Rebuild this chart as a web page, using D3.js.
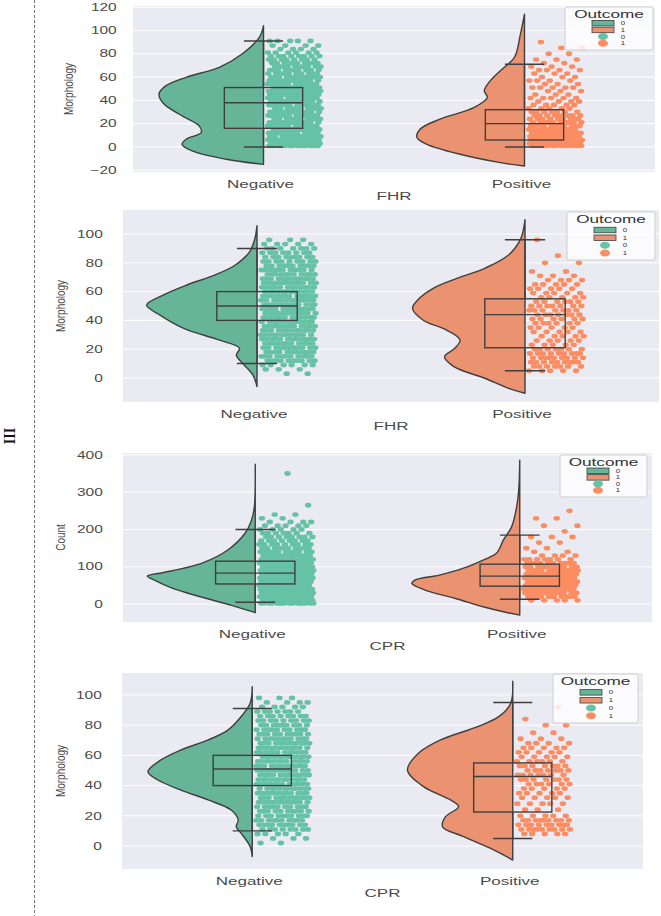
<!DOCTYPE html>
<html>
<head>
<meta charset="utf-8">
<script src="https://cdn.jsdelivr.net/npm/d3@7"></script>
<style>
  body { margin: 0; background: #fff; }
  text { font-family: "Liberation Sans", Arial, sans-serif; }
</style>
</head>
<body>
<svg id="chart" width="661" height="916"></svg>
<script>
// ---- data ----
const categories = ["Negative", "Positive"];
const outcomeLabels = ["0", "1"];
const xTitles = ["FHR", "FHR", "CPR", "CPR"];
const yTitles = ["Morphology", "Morphology", "Count", "Morphology"];

const yTicks1 = [-20, 0, 20, 40, 60, 80, 100, 120];
const yTicks2 = [0, 20, 40, 60, 80, 100];
const yTicks3 = [0, 100, 200, 300, 400];
const yTicks4 = [0, 20, 40, 60, 80, 100];

// box stats: [whisker low, q1, median, q3, whisker high]
const box1Neg = [0, 16, 38, 51, 91];
const box1Pos = [0, 6, 20, 32, 71];
const box2Neg = [10, 40, 50, 60, 90];
const box2Pos = [5, 21, 44, 55, 96];
const box3Neg = [5, 54, 83, 115, 200];
const box3Pos = [13, 48, 75, 107, 185];
const box4Neg = [10, 40, 51, 60, 91];
const box4Pos = [5, 22.5, 46, 55, 95];

// half violin outline: [value, relative density]
const violin1Neg = [[-15, 0], [-10.6, 37], [-3.4, 71], [2.3, 81], [6.6, 77], [12.4, 62], [18.1, 64], [26.7, 81], [36.8, 99], [45.4, 104], [52.6, 97], [59.8, 77], [68.4, 44], [80, 21], [94.3, 4], [104, 0]];
const violin1Pos = [[-16.4, 0], [-13.5, 24], [-6.3, 64], [2.3, 97], [8.1, 107], [15.2, 104], [23.9, 84], [33.9, 50], [42.5, 37], [48.3, 40], [56.9, 34], [65.5, 24], [77, 10], [97, 4], [114, 0]];
const violin2Neg = [[-6, 0], [2.1, 4], [10.2, 14], [15.9, 20], [20.6, 17], [26.4, 37], [34.5, 71], [43.7, 94], [50.7, 107], [57.6, 91], [64.6, 68], [71.5, 41], [78.5, 21], [87.8, 7], [97, 2], [105.8, 0]];
const violin2Pos = [[-10.6, 0], [-7.2, 16], [-0.2, 39], [7.9, 69], [14.8, 78], [20.6, 68], [26.4, 63], [33.3, 76], [40.3, 99], [48.4, 109], [54.2, 104], [62.3, 89], [69.2, 66], [76.2, 39], [85.4, 16], [97, 4], [110, 0]];
const violin3Neg = [[-23, 0], [-16, 8], [-2.7, 24], [19.6, 54], [42, 81], [64, 99], [75, 106], [84, 91], [95.6, 71], [111, 51], [145, 27], [190, 10], [222, 4], [258, 1], [375, 0]];
const violin3Pos = [[-29.5, 0], [-20.6, 16], [-7.2, 36], [15, 63], [37.5, 93], [55.3, 106], [64.3, 103], [77.7, 79], [95.6, 56], [118, 36], [136, 23], [172, 16], [207, 8], [261, 3], [306, 1], [386, 0]];
const violin4Neg = [[-7, 0], [-0.4, 2], [8.4, 11], [12.8, 16], [17.2, 14], [23.8, 21], [30.5, 44], [37, 71], [43.7, 94], [49.2, 104], [57, 91], [63.6, 71], [70.2, 44], [76.9, 24], [85.7, 11], [94.6, 2], [105.5, 0]];
const violin4Pos = [[-9.3, 0], [-2.6, 19], [6.2, 49], [12.8, 70], [19.4, 67], [26, 54], [30.5, 62], [39.3, 89], [50.3, 105], [61.4, 94], [70.2, 72], [79, 35], [85.6, 14], [94.5, 2], [109, 0]];

// strip points: [value, how many points at that value]
const strip1Neg = [[1, 16], [3, 14], [6, 14], [9, 12], [12, 12], [15, 12], [18, 12], [21, 12], [24, 10], [27, 12], [30, 12], [33, 10], [36, 12], [39, 12], [42, 12], [45, 14], [48, 14], [51, 12], [54, 12], [57, 12], [60, 12], [63, 10], [66, 10], [69, 10], [72, 10], [75, 8], [78, 8], [81, 6], [84, 4], [87, 4], [91, 5]];
const strip1Pos = [[1, 16], [3, 15], [6, 14], [9, 13], [12, 13], [15, 12], [18, 11], [21, 10], [24, 9], [27, 8], [30, 7], [33, 5], [36, 5], [39, 4], [42, 5], [45, 3], [48, 3], [51, 5], [54, 3], [57, 4], [60, 3], [63, 3], [66, 4], [69, 3], [72, 2], [75, 3], [80, 2], [85, 2], [90, 1]];
const strip2Neg = [[3, 2], [6, 3], [9, 6], [12, 10], [15, 11], [18, 11], [21, 11], [24, 11], [27, 12], [30, 12], [33, 12], [36, 12], [39, 12], [42, 12], [45, 12], [48, 12], [51, 12], [54, 12], [57, 12], [60, 12], [63, 12], [66, 12], [69, 12], [72, 11], [75, 11], [78, 10], [81, 9], [84, 9], [87, 8], [90, 7], [93, 5], [96, 3]];
const strip2Pos = [[5, 5], [8, 7], [11, 9], [14, 9], [17, 9], [20, 7], [23, 5], [26, 5], [29, 5], [32, 5], [35, 5], [38, 6], [41, 6], [44, 7], [47, 7], [50, 7], [53, 6], [56, 5], [59, 5], [62, 5], [65, 5], [68, 4], [71, 3], [74, 2], [80, 2], [85, 1], [96, 1]];
const strip3Neg = [[2, 16], [10, 16], [20, 16], [30, 16], [40, 16], [50, 16], [60, 16], [70, 16], [80, 16], [90, 16], [100, 15], [110, 14], [120, 13], [130, 12], [140, 11], [150, 10], [160, 9], [170, 8], [180, 8], [190, 7], [200, 5], [210, 5], [220, 4], [230, 2], [240, 2], [265, 1], [350, 1]];
const strip3Pos = [[10, 5], [20, 10], [30, 12], [40, 13], [50, 13], [60, 13], [70, 13], [80, 13], [90, 12], [100, 11], [110, 10], [120, 7], [130, 4], [140, 2], [150, 2], [165, 2], [180, 3], [195, 1], [210, 2], [230, 2], [250, 1]];
const strip4Neg = [[2, 2], [5, 3], [8, 5], [11, 8], [14, 10], [17, 10], [20, 10], [23, 10], [26, 10], [29, 12], [32, 12], [35, 12], [38, 12], [41, 12], [44, 12], [47, 12], [50, 12], [53, 12], [56, 12], [59, 12], [62, 12], [65, 12], [68, 12], [71, 11], [74, 10], [77, 10], [80, 9], [83, 9], [86, 8], [89, 7], [92, 5], [95, 4], [98, 3]];
const strip4Pos = [[8, 5], [11, 9], [14, 9], [17, 9], [20, 5], [24, 3], [28, 5], [32, 5], [35, 5], [38, 5], [41, 6], [44, 7], [47, 7], [50, 7], [53, 7], [56, 6], [59, 5], [62, 5], [65, 5], [68, 4], [71, 3], [75, 2], [80, 2], [84, 1], [92, 1]];

// ---- styling / layout ----
const pointColors = ["#66c2a5", "#fc8d62"];
const violinColors = ["#67b598", "#eb9270"];
const edgeColor = "#3f3f3f";
const textColor = "#4a4a4a";
const sx = 1.55; // the figure's text is stretched horizontally

const layout = [
  { x0: 133, x1: 655, y0: 6, y1: 172, dom: [-21.5, 121], ticks: yTicks1, yTitleX: 68, legend: [565, 7, 88, 43] },
  { x0: 123, x1: 659, y0: 210, y1: 402, dom: [-16.7, 116.7], ticks: yTicks2, yTitleX: 60, legend: [567, 212, 88, 48] },
  { x0: 123, x1: 652, y0: 453, y1: 622, dom: [-48, 405], ticks: yTicks3, yTitleX: 60, legend: [560, 455, 87, 42] },
  { x0: 122, x1: 643, y0: 673, y1: 869, dom: [-15.2, 114.5], ticks: yTicks4, yTitleX: 60, legend: [553, 674, 85, 49] }
];

const panels = [
  { boxes: [box1Neg, box1Pos], violins: [violin1Neg, violin1Pos], strips: [strip1Neg, strip1Pos] },
  { boxes: [box2Neg, box2Pos], violins: [violin2Neg, violin2Pos], strips: [strip2Neg, strip2Pos] },
  { boxes: [box3Neg, box3Pos], violins: [violin3Neg, violin3Pos], strips: [strip3Neg, strip3Pos] },
  { boxes: [box4Neg, box4Pos], violins: [violin4Neg, violin4Pos], strips: [strip4Neg, strip4Pos] }
];

const svg = d3.select("#chart");

// dashed divider and rotated side label
svg.append("line")
  .attr("x1", 34.5).attr("x2", 34.5).attr("y1", 0).attr("y2", 916)
  .attr("stroke", "#777").attr("stroke-width", 1).attr("stroke-dasharray", "3,2");

svg.append("text")
  .attr("transform", "translate(10,436) scale(1.15,1) rotate(90)")
  .attr("text-anchor", "middle")
  .attr("dy", "0.35em")
  .style("font-family", "'Liberation Serif', 'DejaVu Serif', serif")
  .style("font-weight", "bold")
  .style("font-size", "14px")
  .attr("fill", "#111")
  .text("III");

function stretchedText(g, x, y, str, size, anchor, rot, scaleX) {
  return g.append("text")
    .attr("transform", `translate(${x},${y}) scale(${scaleX || sx},1)` + (rot ? ` rotate(${rot})` : ""))
    .attr("text-anchor", anchor)
    .attr("dy", "0.35em")
    .attr("fill", textColor)
    .style("font-size", size + "px")
    .text(str);
}

let jitterIndex = 0;

panels.forEach((p, pi) => {
  const L = layout[pi];
  const g = svg.append("g");

  const y = d3.scaleLinear().domain(L.dom).range([L.y1, L.y0]);
  const x = d3.scaleBand().domain(categories).range([L.x0, L.x1]);
  const bw = x.bandwidth();
  const cx = (c) => x(c) + bw / 2;
  const vw = d3.scaleLinear().domain([0, 100]).range([0, bw * 0.385]);

  // background + grid
  g.append("rect")
    .attr("x", L.x0).attr("y", L.y0)
    .attr("width", L.x1 - L.x0).attr("height", L.y1 - L.y0)
    .attr("fill", "#eaeaf2");

  g.selectAll(".grid")
    .data(L.ticks)
    .join("line")
    .attr("x1", L.x0).attr("x2", L.x1)
    .attr("y1", (d) => y(d)).attr("y2", (d) => y(d))
    .attr("stroke", "#fff").attr("stroke-width", 1);

  // y axis labels
  const axis = g.append("g")
    .attr("transform", `translate(${L.x0},0)`)
    .call(d3.axisLeft(y).tickValues(L.ticks).tickSize(0).tickPadding(pi === 0 ? 10.5 : 13).tickFormat((d) => d < 0 ? "\u2212" + Math.abs(d) : d));
  axis.select(".domain").remove();
  axis.selectAll("text")
    .attr("transform", `scale(${sx},1)`)
    .attr("fill", textColor)
    .style("font-family", "'Liberation Sans', Arial, sans-serif")
    .style("font-size", "10px");

  categories.forEach((cat, ci) => {
    const c = cx(cat);

    // half violin on the left
    const area = d3.area()
      .y((d) => y(d[0]))
      .x0(c)
      .x1((d) => c - vw(d[1]))
      .curve(d3.curveCatmullRom.alpha(0.5));
    g.append("path")
      .datum(p.violins[ci])
      .attr("d", area)
      .attr("fill", violinColors[ci])
      .attr("stroke", edgeColor)
      .attr("stroke-width", 1.4)
      .attr("stroke-linejoin", "round");

    // strip points on the right
    const pts = [];
    p.strips[ci].forEach(([v, n]) => {
      for (let k = 0; k < n; k++) {
        jitterIndex++;
        pts.push({ v, j: (jitterIndex * 0.6180339887) % 1 });
      }
    });
    g.selectAll(null)
      .data(pts)
      .join("ellipse")
      .attr("cx", (d) => c + 4 + d.j * (bw * 0.22 - 4))
      .attr("cy", (d) => y(d.v))
      .attr("rx", 3.2)
      .attr("ry", 2.4)
      .attr("fill", pointColors[ci]);

    // box
    const [lo, q1, med, q3, hi] = p.boxes[ci];
    const boxW = bw * 0.3;
    const bg = g.append("g")
      .attr("fill", "none")
      .attr("stroke", edgeColor)
      .attr("stroke-width", 1.4);
    bg.append("rect")
      .attr("x", c - boxW / 2).attr("y", y(q3))
      .attr("width", boxW).attr("height", y(q1) - y(q3));
    bg.append("line").attr("x1", c - boxW / 2).attr("x2", c + boxW / 2).attr("y1", y(med)).attr("y2", y(med));
    bg.append("line").attr("x1", c).attr("x2", c).attr("y1", y(q3)).attr("y2", y(hi));
    bg.append("line").attr("x1", c).attr("x2", c).attr("y1", y(q1)).attr("y2", y(lo));
    bg.append("line").attr("x1", c - boxW / 4).attr("x2", c + boxW / 4).attr("y1", y(hi)).attr("y2", y(hi));
    bg.append("line").attr("x1", c - boxW / 4).attr("x2", c + boxW / 4).attr("y1", y(lo)).attr("y2", y(lo));

    // category label
    stretchedText(g, c - 3, L.y1 + 12, cat, 11, "middle");
  });

  // axis titles
  stretchedText(g, (L.x0 + L.x1) / 2, L.y1 + 24, xTitles[pi], 11, "middle");
  stretchedText(g, L.yTitleX, (L.y0 + L.y1) / 2, yTitles[pi], 10, "middle", -90, 1.3);

  // legend
  const [lx, ly, lw, lh] = L.legend;
  const lg = g.append("g").attr("transform", `translate(${lx},${ly})`);
  lg.append("rect")
    .attr("width", lw).attr("height", lh).attr("rx", 2)
    .attr("fill", "#fff").attr("fill-opacity", 0.8)
    .attr("stroke", "#cfcfcf").attr("stroke-width", 1);
  stretchedText(lg, lw / 2, 7.5, "Outcome", 10, "middle", 0, 1.72).attr("fill", "#333");
  const start = lh * 0.37;
  const step = (lh - start - 4) / 3.4;
  [0, 1, 2, 3].forEach((i) => {
    const ry = start + i * step;
    const col = i % 2;
    if (i < 2) {
      lg.append("rect")
        .attr("x", 27).attr("y", ry - 2.5).attr("width", 22).attr("height", 5.5)
        .attr("fill", violinColors[col]).attr("stroke", edgeColor).attr("stroke-width", 0.8);
    } else {
      lg.append("ellipse")
        .attr("cx", 38).attr("cy", ry).attr("rx", 5).attr("ry", 3.5)
        .attr("fill", pointColors[col]);
    }
    stretchedText(lg, 58, ry, outcomeLabels[col], 6, "middle", 0, 1.3).attr("fill", "#333");
  });
});
</script>
</body>
</html>
